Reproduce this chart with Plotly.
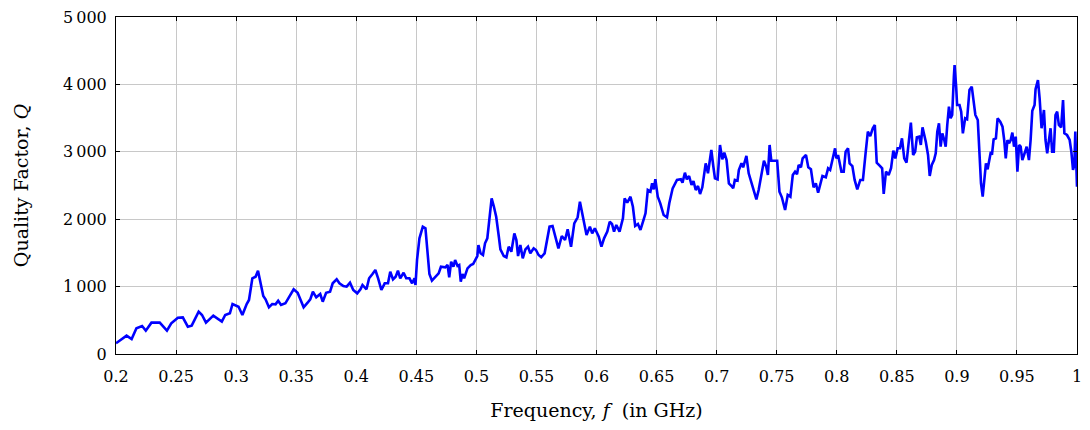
import plotly.graph_objects as go

# Frequency (GHz) and quality factor
freq_ghz = [
    0.2, 0.2088, 0.213, 0.217, 0.2217, 0.2248, 0.2295, 0.2364, 0.2424, 0.246,
    0.2515, 0.2556, 0.2598, 0.263, 0.2688, 0.2716, 0.2749, 0.281, 0.2881, 0.2909,
    0.2948, 0.297, 0.302,
    0.3052, 0.3088, 0.3107, 0.3135, 0.3162, 0.3182, 0.3198, 0.3226, 0.3245, 0.3273,
    0.33, 0.3328, 0.335, 0.3374, 0.341, 0.3446, 0.3479, 0.3512, 0.3562, 0.3595,
    0.3617, 0.3639, 0.3667, 0.37, 0.3721, 0.3749, 0.3782, 0.3804, 0.3837, 0.386,
    0.3893, 0.392, 0.3948, 0.3975, 0.4008,
    0.4035, 0.4052, 0.4085, 0.4107, 0.4135, 0.4159, 0.4182, 0.4209, 0.4237, 0.4264,
    0.4283, 0.4306, 0.4328, 0.4347, 0.4366, 0.4394, 0.4416, 0.4443, 0.4465, 0.4485,
    0.4493, 0.4506, 0.4526, 0.4554, 0.4576, 0.4595, 0.4609, 0.463, 0.4658, 0.4686,
    0.4705, 0.4741, 0.476, 0.4774, 0.479, 0.4809, 0.4823, 0.4843, 0.4857, 0.487,
    0.4884, 0.4898, 0.4926, 0.4953, 0.4973, 0.499, 0.5008,
    0.5017, 0.5035, 0.5055, 0.5072, 0.5091, 0.511, 0.5127, 0.5146, 0.5165, 0.5187,
    0.52, 0.5228, 0.525, 0.5269, 0.5291, 0.5316, 0.5333, 0.5347, 0.5366, 0.5386,
    0.5408, 0.543, 0.5449, 0.5477, 0.5496, 0.5518, 0.554, 0.5568, 0.5587, 0.5609,
    0.5634, 0.5655, 0.5683, 0.5711, 0.5738, 0.576, 0.5788, 0.5815, 0.5843, 0.5862,
    0.589, 0.5917, 0.5945, 0.5964, 0.5986,
    0.6, 0.6019, 0.6041, 0.6063, 0.609, 0.611, 0.6129, 0.6146, 0.6165, 0.6192,
    0.622, 0.6234, 0.6256, 0.6283, 0.6303, 0.6322, 0.6345, 0.6366, 0.6391, 0.6408,
    0.6427, 0.6449, 0.6463, 0.6477, 0.649, 0.651, 0.6531, 0.6559, 0.6587, 0.6606,
    0.6634, 0.667, 0.6702, 0.6716, 0.6736, 0.6752, 0.6771, 0.6791, 0.6807, 0.6826,
    0.6845, 0.6862, 0.6881, 0.6909, 0.6928, 0.6956, 0.6972, 0.6986,
    0.7008, 0.7028, 0.7047, 0.7064, 0.7083, 0.7102, 0.7124, 0.7138, 0.7152, 0.7174,
    0.7185, 0.7207, 0.7221, 0.7235, 0.7248, 0.7267, 0.729, 0.7312, 0.7331, 0.735,
    0.7372, 0.7394, 0.7413, 0.7427, 0.7441, 0.7455, 0.7482, 0.7504, 0.7523, 0.7543,
    0.757, 0.7592, 0.7614, 0.7634, 0.7653, 0.7669, 0.7683, 0.7702, 0.7716, 0.7744,
    0.7763, 0.7785, 0.7807, 0.7826, 0.7845, 0.7862, 0.7881, 0.7909, 0.7928, 0.7945,
    0.7964, 0.7986,
    0.7997, 0.8011, 0.8039, 0.8058, 0.8074, 0.8094, 0.8107, 0.813, 0.8149, 0.8171,
    0.8196, 0.8218, 0.824, 0.8259, 0.8279, 0.83, 0.8317, 0.8333, 0.8361, 0.8378,
    0.8391, 0.841, 0.8432, 0.8452, 0.8471, 0.8488, 0.8507, 0.8526, 0.8543, 0.8562,
    0.8581, 0.8597, 0.8617, 0.8636, 0.8653, 0.8667, 0.8686, 0.87, 0.8714, 0.8741,
    0.876, 0.8774, 0.8791, 0.881, 0.8824, 0.8837, 0.8851, 0.8865, 0.8879, 0.8895,
    0.8907, 0.892, 0.8934, 0.8948, 0.8961, 0.8975,
    0.8981, 0.8994, 0.9002, 0.9022, 0.9036, 0.905, 0.9069, 0.9085, 0.9105, 0.9124,
    0.914, 0.9154, 0.9174, 0.9188, 0.9201, 0.9215, 0.9229, 0.9242, 0.9256, 0.927,
    0.9283, 0.9292, 0.9306, 0.9325, 0.9339, 0.9361, 0.938, 0.9394, 0.9407, 0.9421,
    0.9435, 0.9448, 0.9462, 0.9476, 0.949, 0.9504, 0.9518, 0.9531, 0.9545, 0.9564,
    0.9581, 0.96, 0.9614, 0.9628, 0.9647, 0.9655, 0.9675, 0.9689, 0.9705, 0.9725,
    0.9738, 0.9752, 0.9766, 0.978, 0.9793, 0.9807, 0.9821, 0.9835, 0.9849, 0.9868,
    0.9884, 0.9895, 0.9917, 0.9939, 0.9953, 0.9967, 0.9978, 0.9986, 1.0,
]

quality_q = [
    159, 272, 223, 381, 415, 346, 465, 465, 346, 455,
    539, 544, 405, 420, 628, 579, 465, 569, 480, 579,
    604, 742, 702,
    579, 742, 801, 1123, 1147, 1236, 1098, 861, 811, 693,
    742, 737, 791, 727, 752, 850, 960, 909, 693, 761,
    811, 924, 841, 890, 776, 909, 924, 1049, 1108, 1049,
    1009, 999, 1058, 950, 900,
    960, 1024, 960, 1123, 1187, 1246, 1123, 950, 1049, 1049,
    1221, 1108, 1147, 1236, 1123, 1206, 1123, 1123, 1049, 1123,
    1024, 1395, 1716, 1889, 1865, 1469, 1187, 1088, 1147, 1197,
    1295, 1286, 1320, 1138, 1370, 1295, 1395, 1306, 1320, 1073,
    1187, 1123, 1271, 1320, 1335, 1405, 1454,
    1617, 1494, 1469, 1642, 1716, 2013, 2310, 2185, 2037, 1740,
    1553, 1454, 1435, 1592, 1518, 1790, 1691, 1454, 1617, 1420,
    1553, 1592, 1494, 1568, 1543, 1469, 1435, 1494, 1691, 1889,
    1899, 1766, 1568, 1751, 1691, 1850, 1592, 1939, 2028, 2260,
    1988, 1766, 1889, 1790, 1865,
    1800, 1740, 1592, 1716, 1815, 1963, 1929, 1815, 1914, 1815,
    2013, 2310, 2245, 2334, 2185, 1899, 1929, 1840, 1988, 2087,
    2433, 2408, 2533, 2443, 2592, 2334, 2236, 2062, 2028, 2236,
    2458, 2582, 2592, 2542, 2690, 2592, 2641, 2507, 2567, 2433,
    2493, 2374, 2473, 2829, 2681, 3027, 2789, 2607,
    2592, 3101, 2889, 2987, 2878, 2532, 2493, 2458, 2582, 2571,
    2730, 2829, 2770, 2878, 2938, 2681, 2533, 2384, 2295, 2433,
    2656, 2868, 2779, 2656, 3101, 2868, 2868, 2868, 2408, 2325,
    2136, 2359, 2334, 2656, 2705, 2666, 2804, 2770, 2903, 2953,
    2770, 2740, 2473, 2533, 2393, 2493, 2641, 2622, 2755, 2730,
    2878, 3052,
    2903, 2953, 2705, 2705, 3002, 3052, 2829, 2789, 2582, 2443,
    2582, 2582, 2978, 3299, 3234, 3349, 3398, 2839, 2789, 2755,
    2374, 2705, 2656, 2755, 3017, 2903, 3052, 3052, 3200, 2903,
    2839, 3101, 3432, 2953, 3002, 3215, 3225, 3101, 3363, 3151,
    2953, 2641, 2804, 2878, 2978, 3299, 3423, 3076, 3274, 3175,
    3076, 3398, 3669, 3497, 3546, 4114,
    4288, 3966, 3694, 3694, 3595, 3274, 3497, 3482, 3917, 3966,
    3769, 3546, 3472, 3027, 2533, 2334, 2631, 2829, 2740, 2878,
    3002, 2953, 3185, 3200, 3497, 3447, 3372, 3175, 2903, 3175,
    3126, 3175, 3284, 3076, 3225, 2705, 3101, 3076, 2878, 2978,
    3076, 2878, 3175, 3610, 3694, 3927, 4065, 3793, 3349, 3620,
    3175, 2978, 3175, 3349, 3002, 3002, 3546, 3595, 3398, 3363,
    3769, 3274, 3249, 3175, 3002, 2730, 2804, 3299, 2482,
]

x_ticks = [0.2, 0.25, 0.3, 0.35, 0.4, 0.45, 0.5, 0.55, 0.6, 0.65, 0.7, 0.75, 0.8, 0.85, 0.9, 0.95, 1.0]
x_tick_labels = ["0.2", "0.25", "0.3", "0.35", "0.4", "0.45", "0.5", "0.55", "0.6",
                 "0.65", "0.7", "0.75", "0.8", "0.85", "0.9", "0.95", "1"]
y_ticks = [0, 1000, 2000, 3000, 4000, 5000]
y_tick_labels = ["0", "1\u2009000", "2\u2009000", "3\u2009000", "4\u2009000", "5\u2009000"]

font_family = "DejaVu Serif"

fig = go.Figure()

fig.add_trace(go.Scatter(
    x=freq_ghz,
    y=quality_q,
    mode="lines",
    line=dict(color="#0000ff", width=2.6),
    showlegend=False,
))

axis_style = dict(
    showline=True,
    linecolor="black",
    linewidth=1,
    mirror="allticks",
    ticks="inside",
    ticklen=4,
    tickcolor="black",
    showgrid=True,
    gridcolor="#c8c8c8",
    gridwidth=1,
    zeroline=False,
    automargin=False,
    ticklabeloverflow="allow",
    tickfont=dict(family=font_family, size=16, color="black"),
)

fig.update_xaxes(
    range=[0.19999, 1.00001],
    tickvals=x_ticks,
    ticktext=x_tick_labels,
    ticklabelstandoff=8,
    title=dict(text="Frequency, <i>f</i>  (in GHz)",
               font=dict(family=font_family, size=19, color="black"), standoff=18),
    **axis_style,
)

fig.update_yaxes(
    range=[0, 5000],
    tickvals=y_ticks,
    ticktext=y_tick_labels,
    ticklabelstandoff=5,
    title=dict(text="Quality Factor, <i>Q</i>",
               font=dict(family=font_family, size=19, color="black"), standoff=29),
    **axis_style,
)

# the page body adds an 8px margin all round, so the figure is kept small
# enough that the page never scrolls
fig.update_layout(
    width=1074,
    height=414,
    margin=dict(l=108, r=5, t=9, b=68),
    plot_bgcolor="white",
    paper_bgcolor="white",
    font=dict(family=font_family, color="black"),
)

fig.write_html("out.html")
